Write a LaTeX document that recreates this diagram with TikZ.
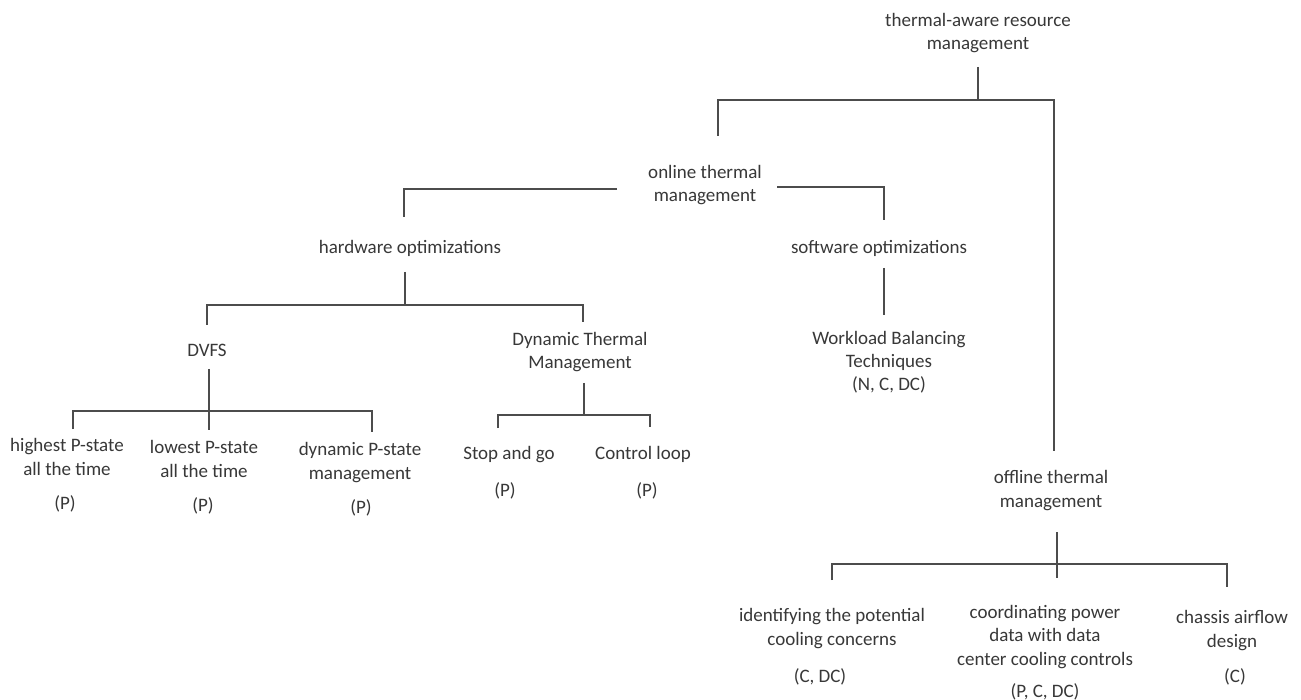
\documentclass[tikz,border=0pt]{standalone}
\usepackage{fontspec}
\setmainfont{Carlito}
\begin{document}
\begin{tikzpicture}[x=1pt,y=-1pt,
  label/.style={anchor=base,align=center,inner sep=0pt,text=black!78,
    font=\fontsize{19}{23.5}\selectfont},
  link/.style={draw=black!70,line width=1.2pt}]
\useasboundingbox[fill=white] (0,0) rectangle (1301,700);

% ---- text nodes (anchor=base sits on the last line's baseline) ----
\node[label] (root)    at (978,50)   {thermal-aware resource\\management};
\node[label] (online)  at (705,202)  {online thermal\\management};
\node[label] (hw)      at (410,254)  {hardware optimizations};
\node[label] (sw)      at (879,254)  {software optimizations};
\node[label] (dvfs)    at (207,357)  {DVFS};
\node[label] (dtm)     at (580,369)  {Dynamic Thermal\\Management};
\node[label] (wb)      at (889,391)  {Workload Balancing\\Techniques\\(N, C, DC)};
\node[label] (offline) at (1051,507) {offline thermal\\management};

\node[label] (hi)    at (67,475)  {highest P-state\\all the time};
\node[label] (hiP)   at (65,509)  {(P)};
\node[label] (lo)    at (204,477) {lowest P-state\\all the time};
\node[label] (loP)   at (203,511) {(P)};
\node[label] (dyn)   at (360,479) {dynamic P-state\\management};
\node[label] (dynP)  at (361,513) {(P)};
\node[label] (sg)    at (509,459) {Stop and go};
\node[label] (sgP)   at (505,496) {(P)};
\node[label] (cl)    at (643,459) {Control loop};
\node[label] (clP)   at (647,496) {(P)};

\node[label] (id)    at (832,645)  {identifying the potential\\cooling concerns};
\node[label] (idP)   at (820,682)  {(C, DC)};
\node[label] (cd)    at (1045,665) {coordinating power\\data with data\\center cooling controls};
\node[label] (cdP)   at (1045,697) {(P, C, DC)};
\node[label] (ch)    at (1232,647) {chassis airflow\\design};
\node[label] (chP)   at (1235,682) {(C)};

% ---- connector end points ----
\coordinate (root-out)   at (978,67);
\coordinate (root-bar)   at (978,100);
\coordinate (online-in)  at (718,136);
\coordinate (offline-in) at (1054,451);

\coordinate (online-l)   at (617,189);
\coordinate (online-r)   at (777,187);
\coordinate (hw-in)      at (404,217);
\coordinate (sw-in)      at (884,220);

\coordinate (hw-out)     at (405,272);
\coordinate (hw-bar)     at (405,305);
\coordinate (dvfs-in)    at (207,325);
\coordinate (dtm-in)     at (583,322);

\coordinate (dvfs-out)   at (209,369);
\coordinate (dvfs-bar)   at (209,411);
\coordinate (lo-in)      at (209,430);
\coordinate (hi-in)      at (73,429);
\coordinate (dyn-in)     at (372,432);

\coordinate (dtm-out)    at (584,383);
\coordinate (dtm-bar)    at (584,415);
\coordinate (sg-in)      at (498,428);
\coordinate (cl-in)      at (650,427);

\coordinate (sw-out)     at (884,268);
\coordinate (wb-in)      at (884,315);

\coordinate (off-out)    at (1057,532);
\coordinate (off-bar)    at (1057,564);
\coordinate (cd-in)      at (1057,578);
\coordinate (id-in)      at (832,580);
\coordinate (ch-in)      at (1227,587);

% ---- connectors ----
\draw[link] (root-out) -- (root-bar);
\draw[link] (online-in) |- (root-bar) -| (offline-in);

\draw[link] (online-l) -| (hw-in);
\draw[link] (online-r) -| (sw-in);

\draw[link] (hw-out) -- (hw-bar);
\draw[link] (dvfs-in) |- (hw-bar) -| (dtm-in);

\draw[link] (dvfs-out) -- (lo-in);
\draw[link] (hi-in) |- (dvfs-bar) -| (dyn-in);

\draw[link] (dtm-out) -- (dtm-bar);
\draw[link] (sg-in) |- (dtm-bar) -| (cl-in);

\draw[link] (sw-out) -- (wb-in);

\draw[link] (off-out) -- (cd-in);
\draw[link] (id-in) |- (off-bar) -| (ch-in);
\end{tikzpicture}
\end{document}
